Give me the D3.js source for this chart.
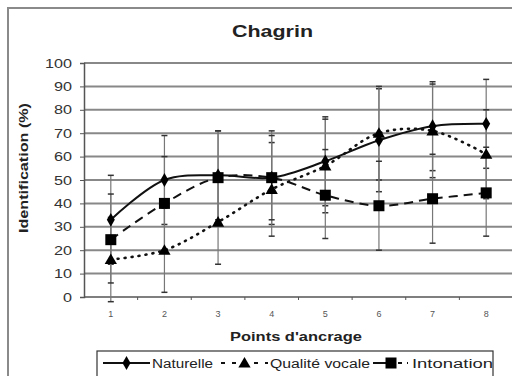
<!DOCTYPE html>
<html>
<head>
<meta charset="utf-8">
<script src="https://cdn.jsdelivr.net/npm/d3@7"></script>
<style>
  body { margin: 0; background: #fff; }
  svg { display: block; font-family: "Liberation Sans", Arial, sans-serif; }
</style>
</head>
<body>
<svg id="chart" width="512" height="376"></svg>
<script>
// anchor points (x categories)
const points = [1, 2, 3, 4, 5, 6, 7, 8];
const yTicks = [0, 10, 20, 30, 40, 50, 60, 70, 80, 90, 100];

// mean identification (%)
const naturelle = [33, 50, 52, 51, 58, 67, 73, 74];
const qualite = [16, 20, 32, 46, 56, 70, 71, 61];
const intonation = [24.5, 40, 51, 51, 43.5, 39, 42, 44.5];

// error bar extents [low, high]
const naturelleErr = [[14, 52], [31, 69], [33, 71], [31, 71], [39, 77], [45, 89], [54, 92], [55, 93]];
const qualiteErr = [[-2, 34], [2, 38], [14, 50], [26, 66], [36, 76], [50, 90], [51, 91], [42, 80]];
const intonationErr = [[6, 44], [20, 60], [31, 71], [33, 69], [25, 63], [20, 58], [23, 61], [26, 64]];

const series = [
  { name: 'Naturelle', values: naturelle, err: naturelleErr, dash: null, marker: 'diamond' },
  { name: 'Qualité vocale', values: qualite, err: qualiteErr, dash: '1,6', marker: 'triangle' },
  { name: 'Intonation', values: intonation, err: intonationErr, dash: '9,6', marker: 'square' }
];

const svg = d3.select('#chart');
const plot = { left: 84, right: 513, top: 63, bottom: 297 };

const x = d3.scaleBand().domain(points).range([plot.left, plot.right]);
const y = d3.scaleLinear().domain([0, 100]).range([plot.bottom, plot.top]);
const cx = d => x(d) + x.bandwidth() / 2;

// outer frame
svg.append('rect')
  .attr('x', 8).attr('y', 8).attr('width', 540).attr('height', 420)
  .attr('fill', 'none').attr('stroke', '#8a8a8a').attr('stroke-width', 2);

// title (the source picture is stretched horizontally)
svg.append('text')
  .attr('x', 232).attr('y', 37)
  .attr('font-size', 16).attr('font-weight', 'bold').attr('fill', '#222')
  .attr('textLength', 81).attr('lengthAdjust', 'spacingAndGlyphs')
  .text('Chagrin');

// gridlines
svg.append('g').selectAll('line')
  .data(yTicks.filter(d => d > 0))
  .enter().append('line')
  .attr('x1', plot.left).attr('x2', 512)
  .attr('y1', d => y(d)).attr('y2', d => y(d))
  .attr('stroke', '#888').attr('stroke-width', 2);

// y axis
const yAxis = svg.append('g')
  .attr('transform', 'translate(' + plot.left + ',0)')
  .call(d3.axisLeft(y).tickValues(yTicks).tickSize(4).tickPadding(0));
yAxis.select('.domain').attr('stroke', '#555').attr('stroke-width', 1.5);
yAxis.selectAll('.tick line').attr('stroke', '#555');
yAxis.selectAll('.tick text').remove();
svg.append('g').selectAll('text')
  .data(yTicks)
  .enter().append('text')
  .attr('x', d => 72 - 9 * String(d).length)
  .attr('y', d => y(d) + 4.5)
  .attr('font-size', 12.5).attr('fill', '#333')
  .attr('textLength', d => 9 * String(d).length)
  .attr('lengthAdjust', 'spacingAndGlyphs')
  .text(d => d);

// x axis
svg.append('line')
  .attr('x1', plot.left).attr('x2', 512)
  .attr('y1', plot.bottom).attr('y2', plot.bottom)
  .attr('stroke', '#555').attr('stroke-width', 1.5);
svg.append('g').selectAll('line')
  .data(points.slice(1))
  .enter().append('line')
  .attr('x1', d => x(d)).attr('x2', d => x(d))
  .attr('y1', plot.bottom).attr('y2', plot.bottom + 3)
  .attr('stroke', '#555');
svg.append('g').selectAll('text')
  .data(points)
  .enter().append('text')
  .attr('x', d => cx(d)).attr('y', 317)
  .attr('text-anchor', 'middle')
  .attr('font-size', 9).attr('fill', '#555')
  .text(d => d);

// axis titles
svg.append('text')
  .attr('x', 230).attr('y', 341)
  .attr('font-size', 12.5).attr('font-weight', 'bold').attr('fill', '#222')
  .attr('textLength', 132).attr('lengthAdjust', 'spacingAndGlyphs')
  .text("Points d'ancrage");

svg.append('text')
  .attr('transform', 'translate(28,233) rotate(-90)')
  .attr('font-size', 12).attr('font-weight', 'bold').attr('fill', '#222')
  .attr('textLength', 130).attr('lengthAdjust', 'spacingAndGlyphs')
  .text('Identification (%)');

// error bars
series.forEach(s => {
  const g = svg.append('g');
  s.err.forEach((e, i) => {
    const px = cx(points[i]);
    g.append('line')
      .attr('x1', px).attr('x2', px)
      .attr('y1', y(e[0])).attr('y2', y(e[1]))
      .attr('stroke', '#777').attr('stroke-width', 1.2);
    e.forEach(v => {
      g.append('line')
        .attr('x1', px - 3).attr('x2', px + 3)
        .attr('y1', y(v)).attr('y2', y(v))
        .attr('stroke', '#333').attr('stroke-width', 1.5);
    });
  });
});

// lines
const line = d3.line()
  .x((d, i) => cx(points[i]))
  .y(d => y(d))
  .curve(d3.curveCatmullRom.alpha(0.5));

series.forEach(s => {
  svg.append('path')
    .datum(s.values)
    .attr('d', line)
    .attr('fill', 'none')
    .attr('stroke', '#111')
    .attr('stroke-width', s.marker === 'triangle' ? 2.6 : 2)
    .attr('stroke-linecap', s.marker === 'triangle' ? 'round' : 'butt')
    .attr('stroke-dasharray', s.dash);
});

// markers
function drawMarker(g, type, px, py) {
  if (type === 'diamond') {
    g.append('path').attr('d', d3.symbol(d3.symbolDiamond, 55)())
      .attr('transform', 'translate(' + px + ',' + py + ')').attr('fill', '#000');
  } else if (type === 'triangle') {
    g.append('path').attr('d', d3.symbol(d3.symbolTriangle, 65)())
      .attr('transform', 'translate(' + px + ',' + (py + 1) + ')').attr('fill', '#000');
  } else {
    g.append('rect')
      .attr('x', px - 5.5).attr('y', py - 5.5).attr('width', 11).attr('height', 11)
      .attr('fill', '#000');
  }
}

series.forEach(s => {
  const g = svg.append('g');
  s.values.forEach((v, i) => drawMarker(g, s.marker, cx(points[i]), y(v)));
});

// legend
const legend = svg.append('g');
legend.append('rect')
  .attr('x', 97).attr('y', 351).attr('width', 396).attr('height', 40)
  .attr('fill', '#fff').attr('stroke', '#333').attr('stroke-width', 1.2);

const legendItems = [
  { s: series[0], x1: 103, x2: 150, tx: 152, w: 61, dash: null },
  { s: series[1], x1: 221, x2: 268, tx: 270, w: 100, dash: '4,7' },
  { s: series[2], x1: 373, x2: 409, tx: 412, w: 81, dash: '22,3,4,5,1' }
];
legendItems.forEach(it => {
  legend.append('line')
    .attr('x1', it.x1).attr('x2', it.x2).attr('y1', 363).attr('y2', 363)
    .attr('stroke', '#111').attr('stroke-width', 2)
    .attr('stroke-dasharray', it.dash);
  drawMarker(legend, it.s.marker, it.s.marker === 'square' ? 391 : (it.x1 + it.x2) / 2, 363);
  legend.append('text')
    .attr('x', it.tx).attr('y', 367.5)
    .attr('font-size', 12.5).attr('fill', '#222')
    .attr('textLength', it.w).attr('lengthAdjust', 'spacingAndGlyphs')
    .text(it.s.name);
});
</script>
</body>
</html>
